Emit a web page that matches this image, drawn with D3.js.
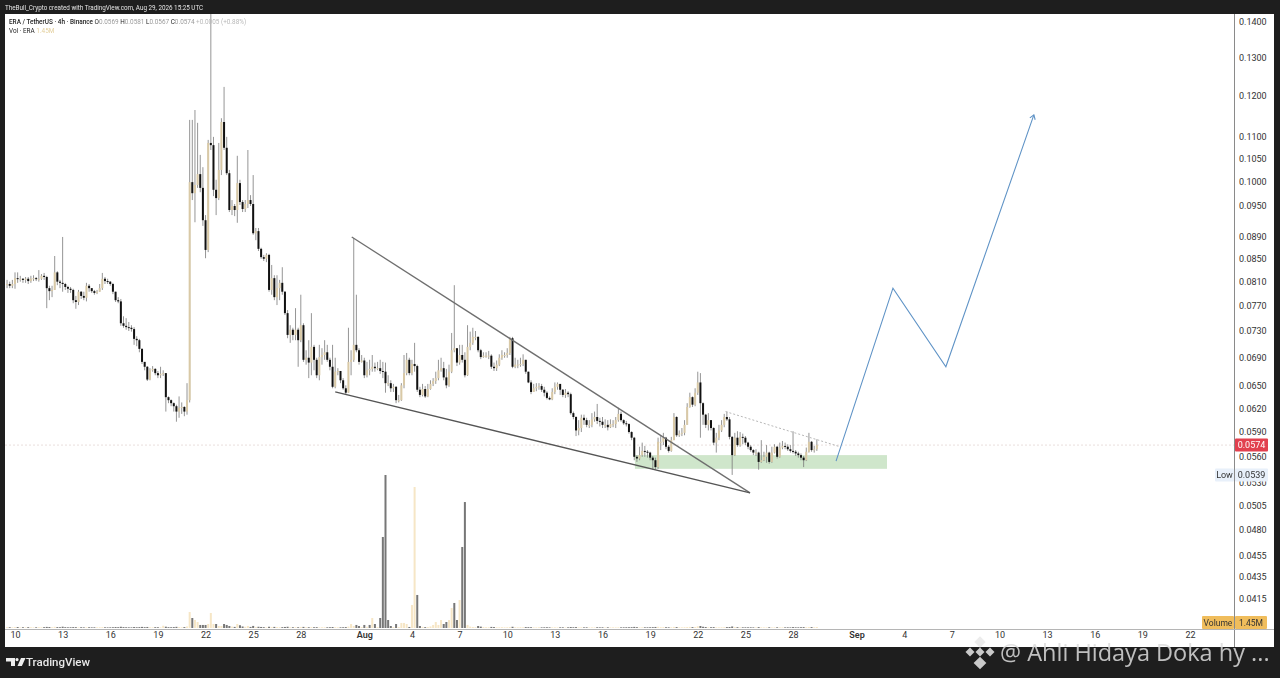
<!DOCTYPE html>
<html><head><meta charset="utf-8">
<style>html,body{margin:0;padding:0;background:#1e1e1e;overflow:hidden}svg{display:block;filter:blur(.3px)}text{font-family:Roboto,"Liberation Sans",sans-serif}</style>
<script src="https://cdn.jsdelivr.net/npm/d3@7/dist/d3.min.js"></script></head><body>
<svg id="c" width="1280" height="678"></svg>
<script>
const firstCandle = "2026-07-09T12:00:00Z";
const firstOpen = 0.0806;
const closes = [
.0806,.0803,.0806,.0816,.0815,.0815,.0813,.0815,.0811,.0815,
.0816,.0815,.0815,.0820,.0818,.0799,.0794,.0796,.0826,.0810,
.0808,.0806,.0801,.0798,.0796,.0779,.0776,.0793,.0786,.0783,
.0803,.0799,.0794,.0791,.0793,.0799,.0815,.0811,.0810,.0806,
.0793,.0779,.0777,.0742,.0738,.0736,.0735,.0733,.0718,.0716,
.0703,.0684,.0677,.0659,.0672,.0674,.0668,.0665,.0667,.0668,
.0635,.0631,.0627,.0623,.0616,.0621,.0622,.0616,.0631,.0999,
.0976,.0993,.1016,.0987,.0922,.0866,.1085,.1080,.0983,.0966,
.1025,.1134,.1074,.1018,.0942,.0950,.0942,.0997,.0958,.0944,
.0954,.0962,.0954,.0897,.0901,.0868,.0853,.0850,.0857,.0796,
.0816,.0784,.0799,.0808,.0793,.0758,.0724,.0732,.0724,.0732,
.0716,.0739,.0687,.0690,.0683,.0706,.0687,.0665,.0691,.0694,
.0698,.0687,.0677,.0649,.0670,.0671,.0658,.0647,.0641,.0684,
.0687,.0709,.0701,.0684,.0686,.0665,.0672,.0674,.0677,.0675,
.0675,.0671,.0670,.0654,.0654,.0647,.0649,.0631,.0631,.0651,
.0668,.0687,.0668,.0681,.0678,.0645,.0638,.0646,.0636,.0646,
.0653,.0657,.0661,.0672,.0675,.0662,.0651,.0670,.0701,.0704,
.0683,.0694,.0687,.0665,.0706,.0712,.0721,.0721,.0701,.0691,
.0693,.0693,.0693,.0677,.0675,.0680,.0690,.0694,.0694,.0697,
.0719,.0677,.0680,.0680,.0681,.0687,.0670,.0655,.0642,.0647,
.0649,.0650,.0645,.0641,.0634,.0632,.0642,.0649,.0653,.0645,
.0638,.0641,.0639,.0614,.0609,.0592,.0595,.0608,.0605,.0599,
.0599,.0606,.0609,.0604,.0603,.0599,.0599,.0596,.0600,.0600,
.0605,.0613,.0605,.0601,.0600,.0590,.0583,.0560,.0558,.0562,
.0567,.0566,.0565,.0559,.0556,.0548,.0578,.0578,.0583,.0572,
.0567,.0580,.0609,.0586,.0588,.0589,.0599,.0622,.0635,.0625,
.0641,.0655,.0627,.0612,.0599,.0605,.0595,.0577,.0583,.0592,
.0599,.0609,.0606,.0584,.0562,.0583,.0574,.0584,.0583,.0577,
.0572,.0568,.0565,.0565,.0554,.0556,.0560,.0565,.0554,.0565,
.0572,.0560,.0571,.0573,.0572,.0569,.0567,.0566,.0564,.0562,
.0559,.0556,.0566,.0578,.0568,.0569,.0574];
const highs = [
.0813,.0810,.0813,.0826,.0826,.0820,.0816,.0818,.0818,.0820,
.0821,.0818,.0830,.0823,.0825,.0820,.0803,.0803,.0855,.0828,
.0813,.0890,.0808,.0803,.0801,.0798,.0786,.0796,.0794,.0793,
.0808,.0806,.0799,.0796,.0796,.0806,.0825,.0818,.0815,.0811,
.0808,.0793,.0784,.0781,.0753,.0750,.0744,.0739,.0736,.0722,
.0718,.0704,.0684,.0678,.0675,.0678,.0675,.0671,.0677,.0672,
.0668,.0636,.0632,.0628,.0625,.0636,.0628,.0623,.0654,.1139,
.1139,.1163,.1132,.1058,.1031,.0932,.1092,.1450,.1099,.1004,
.1085,.1143,.1221,.1099,.1025,.0962,.0954,.1056,.1004,.0962,
.0962,.1069,.0972,.1014,.0907,.0907,.0870,.0857,.0860,.0859,
.0839,.0821,.0821,.0813,.0835,.0794,.0763,.0739,.0735,.0766,
.0735,.0788,.0742,.0701,.0716,.0758,.0709,.0690,.0709,.0704,
.0716,.0709,.0690,.0709,.0690,.0675,.0671,.0661,.0651,.0735,
.0701,.0888,.0788,.0704,.0694,.0690,.0684,.0687,.0694,.0683,
.0684,.0687,.0684,.0683,.0665,.0658,.0653,.0650,.0638,.0654,
.0694,.0697,.0690,.0687,.0712,.0680,.0649,.0653,.0650,.0653,
.0658,.0661,.0670,.0687,.0690,.0684,.0674,.0680,.0727,.0804,
.0704,.0709,.0709,.0698,.0739,.0729,.0735,.0730,.0722,.0703,
.0698,.0698,.0700,.0695,.0683,.0686,.0695,.0701,.0698,.0704,
.0721,.0721,.0690,.0687,.0690,.0695,.0687,.0670,.0658,.0653,
.0654,.0654,.0653,.0649,.0643,.0636,.0647,.0655,.0655,.0651,
.0646,.0646,.0643,.0641,.0616,.0610,.0605,.0612,.0612,.0608,
.0605,.0614,.0616,.0626,.0608,.0609,.0606,.0605,.0606,.0605,
.0609,.0621,.0616,.0606,.0604,.0601,.0591,.0584,.0562,.0572,
.0577,.0573,.0568,.0566,.0561,.0559,.0583,.0585,.0589,.0584,
.0574,.0584,.0614,.0610,.0592,.0595,.0605,.0627,.0641,.0636,
.0647,.0670,.0668,.0628,.0613,.0614,.0605,.0596,.0589,.0599,
.0605,.0613,.0616,.0609,.0585,.0589,.0591,.0590,.0588,.0585,
.0578,.0574,.0569,.0569,.0566,.0580,.0566,.0574,.0566,.0572,
.0575,.0573,.0577,.0579,.0577,.0575,.0574,.0591,.0568,.0566,
.0564,.0561,.0571,.0589,.0579,.0573,.0581];
const lows = [
.0799,.0799,.0799,.0798,.0808,.0810,.0808,.0808,.0806,.0808,
.0811,.0811,.0810,.0813,.0813,.0766,.0779,.0784,.0796,.0804,
.0799,.0793,.0796,.0791,.0791,.0774,.0765,.0771,.0781,.0779,
.0777,.0793,.0791,.0788,.0789,.0793,.0796,.0806,.0806,.0803,
.0789,.0776,.0774,.0738,.0735,.0732,.0730,.0729,.0709,.0707,
.0698,.0681,.0672,.0657,.0658,.0670,.0665,.0661,.0661,.0664,
.0616,.0627,.0623,.0616,.0603,.0608,.0613,.0610,.0612,.0628,
.0962,.0918,.0987,.0978,.0911,.0851,.0862,.1069,.0970,.0932,
.0962,.1014,.1069,.1014,.0938,.0932,.0930,.0917,.0952,.0938,
.0938,.0946,.0950,.0894,.0884,.0864,.0850,.0846,.0844,.0793,
.0788,.0779,.0771,.0779,.0788,.0755,.0719,.0712,.0716,.0716,
.0677,.0713,.0684,.0680,.0661,.0665,.0672,.0661,.0658,.0680,
.0687,.0684,.0672,.0647,.0647,.0665,.0654,.0645,.0638,.0641,
.0665,.0684,.0698,.0680,.0683,.0661,.0662,.0665,.0670,.0670,
.0672,.0667,.0661,.0641,.0650,.0642,.0642,.0627,.0628,.0630,
.0647,.0665,.0665,.0665,.0670,.0642,.0635,.0636,.0634,.0635,
.0645,.0650,.0653,.0658,.0670,.0658,.0647,.0649,.0668,.0698,
.0678,.0680,.0683,.0662,.0664,.0701,.0709,.0716,.0698,.0688,
.0690,.0690,.0688,.0674,.0671,.0671,.0678,.0687,.0690,.0690,
.0694,.0675,.0675,.0675,.0677,.0678,.0667,.0654,.0639,.0642,
.0643,.0645,.0642,.0636,.0632,.0631,.0631,.0639,.0645,.0638,
.0635,.0634,.0635,.0612,.0606,.0585,.0586,.0590,.0599,.0596,
.0595,.0596,.0603,.0600,.0597,.0595,.0595,.0592,.0595,.0596,
.0595,.0603,.0603,.0599,.0597,.0588,.0580,.0556,.0554,.0556,
.0560,.0560,.0559,.0556,.0545,.0545,.0546,.0568,.0574,.0569,
.0565,.0566,.0580,.0584,.0584,.0585,.0586,.0599,.0621,.0622,
.0623,.0638,.0583,.0599,.0595,.0592,.0592,.0574,.0565,.0580,
.0590,.0596,.0604,.0581,.0539,.0561,.0572,.0572,.0575,.0574,
.0569,.0566,.0562,.0561,.0545,.0553,.0555,.0553,.0552,.0553,
.0564,.0558,.0559,.0569,.0569,.0567,.0565,.0564,.0561,.0559,
.0556,.0548,.0555,.0565,.0566,.0565,.0567];
const volumesM = [
1.2,1.1,1.0,1.3,1.4,0.9,1.1,1.0,1.2,1.1,
0.9,1.0,1.3,1.1,1.2,1.6,1.4,1.1,1.7,1.3,
1.1,1.9,1.2,1.0,1.1,1.3,1.2,1.0,1.1,0.9,
1.2,1.1,0.9,1.0,1.1,1.2,1.3,1.0,0.9,1.0,
1.1,1.4,1.2,1.8,1.3,1.1,1.0,0.9,1.4,1.1,
1.3,1.6,1.2,1.5,1.1,1.0,1.2,1.1,1.0,3.3,
1.9,1.2,1.1,1.3,1.7,1.4,1.1,1.3,2.2,23.2,
14.5,11.6,8.7,4.4,4.4,4.4,5.8,21.8,5.8,5.8,
2.9,2.9,5.8,4.4,2.9,2.0,1.6,5.8,4.0,2.2,
1.8,3.0,1.6,3.0,1.5,1.8,1.5,1.2,1.1,1.8,
1.5,1.6,1.4,1.3,1.2,1.5,1.8,1.2,1.1,1.3,
1.1,1.5,1.6,1.2,1.1,1.4,1.1,1.2,1.0,1.1,
1.1,1.0,1.1,1.4,1.2,1.1,1.0,1.1,1.3,2.0,
5.8,2.9,4.4,2.9,1.5,4.4,1.8,4.4,14.5,5.8,
1.5,14.5,132,221.9,11.6,2.9,1.5,5.8,1.5,7.3,
7.3,5.8,1.5,33.4,204.5,47.9,2.9,1.6,1.2,1.5,
2.2,4.4,8.7,4.4,11.6,5.8,8.7,11.6,29,36.3,
11.6,40.6,117.5,182.7,4.4,2.0,1.5,1.2,2.9,2.0,
1.5,1.2,1.1,1.6,1.3,1.1,1.0,1.2,1.0,1.1,
1.4,1.8,1.1,1.0,1.2,1.1,1.3,1.2,1.1,1.0,
1.0,1.1,0.9,1.0,1.1,0.9,1.0,1.1,0.9,1.0,
1.0,0.9,1.0,1.4,1.1,1.3,1.0,1.1,0.9,1.0,
0.9,1.0,0.9,1.1,0.9,1.0,0.9,1.0,0.9,1.0,
0.9,1.0,0.9,1.0,1.1,1.1,1.2,1.6,1.2,1.0,
1.1,1.0,1.0,1.1,1.2,1.5,1.7,1.2,1.3,1.1,
1.0,1.1,1.6,1.3,1.1,1.0,1.2,1.4,1.6,1.3,
1.5,2.4,2.9,1.8,1.4,1.2,1.1,1.3,1.1,1.0,
1.1,1.2,1.3,1.4,2.2,1.5,1.2,1.1,1.0,1.0,
1.0,1.0,0.9,1.0,1.3,1.0,0.9,1.0,1.0,0.9,
1.0,1.0,1.1,1.0,0.9,1.0,0.9,1.3,1.0,1.0,
1.1,1.3,1.2,1.4,1.3,1.1,1.45];
const grayVolumeBars = [70,73,74,75,79,82,83,132,135,137,139,141,142,143,144,145,147,155,156,165,166,169,170,172,173];
const tanVolumeBars = [69,71,72,76,77,78,130,138,149,150,151,153,154,161,162,163,164,167,168,171,174];
const priceTicks = [.14,.13,.12,.11,.105,.1,.095,.089,.085,.081,.077,.073,.069,.065,.062,.059,.056,.053,.0505,.048,.0455,.0435,.0415];
const timeTicks = [["2026-07-10","10"],["2026-07-13","13"],["2026-07-16","16"],["2026-07-19","19"],["2026-07-22","22"],["2026-07-25","25"],["2026-07-28","28"],["2026-08-01","Aug"],["2026-08-04","4"],["2026-08-07","7"],["2026-08-10","10"],["2026-08-13","13"],["2026-08-16","16"],["2026-08-19","19"],["2026-08-22","22"],["2026-08-25","25"],["2026-08-28","28"],["2026-09-01","Sep"],["2026-09-04","4"],["2026-09-07","7"],["2026-09-10","10"],["2026-09-13","13"],["2026-09-16","16"],["2026-09-19","19"],["2026-09-22","22"]];
const upperTrend = [["2026-07-31T05:00Z",.0890],["2026-08-25T07:00Z",.0519]];
const lowerTrend = [["2026-07-30T04:00Z",.0642],["2026-08-25T07:00Z",.0519]];
const dottedTrend = [["2026-08-23T18:00Z",.0616],["2026-08-30T23:00Z",.0572]];
const projection = [["2026-08-30T17:00Z",.0555],["2026-09-03T07:00Z",.0799],["2026-09-06T15:00Z",.0677],["2026-09-12T04:00Z",.1151]];
const supportZone = {from:"2026-08-18T01:00Z",to:"2026-09-02T22:00Z",top:.0562,bottom:.0546};
const lastPrice = .0574, lowPrice = .0539;

const UP="#d9c9a6", DOWN="#111", WICK="#7a7a7a", VUP="#f6e6c6", VDOWN="#777";
const svg=d3.select("#c");
svg.append("rect").attr("x",5).attr("y",14).attr("width",1269).attr("height",633).attr("fill","#fff");
svg.append("defs").append("clipPath").attr("id","pane").append("rect").attr("x",5).attr("y",14).attr("width",1229).attr("height",615);

const x=d3.scaleUtc().domain([new Date("2026-07-10T00:00Z"),new Date("2026-09-22T00:00Z")]).range([15,1190]);
const y=d3.scaleLog().domain([.14,.0415]).range([22,599]);
const vy=d3.scaleLinear().domain([0,221.9]).range([628,475]);
const t0=+new Date(firstCandle), H4=4*3600e3;
const candles=closes.map((c,i)=>({t:new Date(t0+i*H4),o:i?closes[i-1]:firstOpen,c,h:highs[i],l:lows[i],v:volumesM[i],i}));
const pane=svg.append("g").attr("clip-path","url(#pane)");

pane.append("line").attr("x1",5).attr("x2",1234).attr("y1",y(lastPrice)).attr("y2",y(lastPrice)).attr("stroke","#e9dedc").attr("stroke-dasharray","2 2");

pane.append("rect").attr("x",x(new Date(supportZone.from))).attr("width",x(new Date(supportZone.to))-x(new Date(supportZone.from)))
 .attr("y",y(supportZone.top)).attr("height",y(supportZone.bottom)-y(supportZone.top)).attr("fill","#cfe6cb");

const vcol=d=>grayVolumeBars.includes(d.i)?VDOWN:tanVolumeBars.includes(d.i)?VUP:(d.c>=d.o?VUP:VDOWN);
pane.append("g").selectAll("rect").data(candles).join("rect")
 .attr("x",d=>x(d.t)-1).attr("width",2).attr("y",d=>vy(d.v)).attr("height",d=>628-vy(d.v)).attr("fill",vcol);

const g=pane.append("g");
g.selectAll("line").data(candles).join("line").attr("x1",d=>x(d.t)).attr("x2",d=>x(d.t))
 .attr("y1",d=>y(d.h)).attr("y2",d=>y(d.l)).attr("stroke",WICK).attr("stroke-width",.8);
g.selectAll("rect").data(candles).join("rect").attr("x",d=>x(d.t)-1).attr("width",2)
 .attr("y",d=>y(Math.max(d.o,d.c))).attr("height",d=>Math.max(1,Math.abs(y(d.o)-y(d.c))))
 .attr("fill",d=>d.c>=d.o?UP:DOWN);

const line=d3.line().x(d=>x(new Date(d[0]))).y(d=>y(d[1]));
pane.append("path").attr("d",line(upperTrend)).attr("fill","none").attr("stroke","#6f6f6f").attr("stroke-width",1.3);
pane.append("path").attr("d",line(lowerTrend)).attr("fill","none").attr("stroke","#555").attr("stroke-width",1.3);
pane.append("path").attr("d",line(dottedTrend)).attr("fill","none").attr("stroke","#b8b8b8").attr("stroke-width",1).attr("stroke-dasharray","2 2");
pane.append("path").attr("d",line(projection)).attr("fill","none").attr("stroke","#5f93c6").attr("stroke-width",1.1);
const pe=projection[projection.length-1], pp=projection[projection.length-2];
const ex=x(new Date(pe[0])),ey=y(pe[1]),a=Math.atan2(ey-y(pp[1]),ex-x(new Date(pp[0])));
pane.append("path").attr("d",d3.line()([[ex-5*Math.cos(a-.6),ey-5*Math.sin(a-.6)],[ex,ey],[ex-5*Math.cos(a+.6),ey-5*Math.sin(a+.6)]])).attr("fill","none").attr("stroke","#5f93c6").attr("stroke-width",1.1);

svg.append("line").attr("x1",1234.5).attr("x2",1234.5).attr("y1",14).attr("y2",647).attr("stroke","#8a8a8a");
svg.append("line").attr("x1",5).attr("x2",1274).attr("y1",629.5).attr("y2",629.5).attr("stroke","#b5b5b5");

const ay=svg.append("g").attr("transform","translate(1234.5,0)").call(d3.axisRight(y).tickValues(priceTicks).tickSize(0).tickPadding(4.5).tickFormat(d3.format(".4f")));
ay.select(".domain").remove();
ay.selectAll("text").attr("font-size",9).attr("fill","#333").style("font-family","Roboto");
const tickMap=new Map(timeTicks.map(d=>[+new Date(d[0]+"T00:00Z"),d[1]]));
const ax=svg.append("g").attr("transform","translate(0,628)").call(d3.axisBottom(x).tickValues(timeTicks.map(d=>new Date(d[0]+"T00:00Z"))).tickSize(0).tickPadding(4).tickFormat(d=>tickMap.get(+d)));
ax.select(".domain").remove();
ax.selectAll("text").attr("font-size",9).attr("fill","#333").style("font-family","Roboto").attr("font-weight",d=>/Aug|Sep/.test(tickMap.get(+d))?600:400);

function tag(x0,w,yc,h,fill,txt,col,sz){svg.append("rect").attr("x",x0).attr("y",yc-h/2).attr("width",w).attr("height",h).attr("rx",1).attr("fill",fill);
 svg.append("text").attr("x",x0+w/2).attr("y",yc+3).attr("text-anchor","middle").attr("font-size",sz||9).attr("fill",col).text(txt);}
tag(1235,33,y(lastPrice),13,"#e2404f",d3.format(".4f")(lastPrice),"#fff");
tag(1215,19,y(lowPrice),13,"#e8f0fa","Low","#333");
tag(1235,33,y(lowPrice),13,"#e8f0fa",d3.format(".4f")(lowPrice),"#333");
tag(1202,32,622.5,13,"#f0bd5c","Volume","#333",8.5);
tag(1235,32,622.5,13,"#f0bd5c",volumesM[volumesM.length-1]+"M","#333",8.5);

const leg=svg.append("text").attr("x",9).attr("y",24).attr("font-size",6.4).attr("fill","#222");
leg.append("tspan").attr("font-weight",500).text("ERA / TetherUS · 4h · Binance  ");
[["O","0.0569"],["H","0.0581"],["L","0.0567"],["C","0.0574"]].forEach(p=>{leg.append("tspan").text(" "+p[0]);leg.append("tspan").attr("fill","#9a9a9a").text(p[1]+" ");});
leg.append("tspan").attr("fill","#b8b8b8").text(" +0.0005 (+0.88%)");
const leg2=svg.append("text").attr("x",9).attr("y",33).attr("font-size",6.4).attr("fill","#222");
leg2.append("tspan").text("Vol · ERA  ");
leg2.append("tspan").attr("fill","#e3cf9c").text("1.45M");

svg.append("text").attr("x",5).attr("y",10).attr("font-size",6.3).attr("fill","#e4e4e4").text("TheBull_Crypto created with TradingView.com, Aug 29, 2026 15:25 UTC");

const logo=svg.append("g").attr("fill","#eee");
logo.append("path").attr("d","M6 658h9v8h-4v-4.5H6zM17 658a1.6 1.6 0 1 0 .01 0z");
logo.append("path").attr("d","M21 658h4.5l-3.6 8H17.5z");
svg.append("text").attr("x",26).attr("y",666).attr("font-size",11.5).attr("font-weight",500).attr("fill","#e8e8e8").text("TradingView");

const wm=svg.append("g").attr("fill","#e9e9e9").attr("opacity",.85);
[[980,642,4],[980,663,4.5],[970,652,3.2],[990,652,3.2],[980,652,3.2]].forEach(d=>{
 wm.append("rect").attr("x",d[0]-d[2]).attr("y",d[1]-d[2]).attr("width",2*d[2]).attr("height",2*d[2]).attr("transform",`rotate(45 ${d[0]} ${d[1]})`);});
svg.append("text").attr("x",1000).attr("y",661).attr("font-size",23.5).attr("fill","#dcdcdc").attr("fill-opacity",.85).style("font-family","'Open Sans'").text("@ Ahli Hidaya Doka hy ...");
</script></body></html>
